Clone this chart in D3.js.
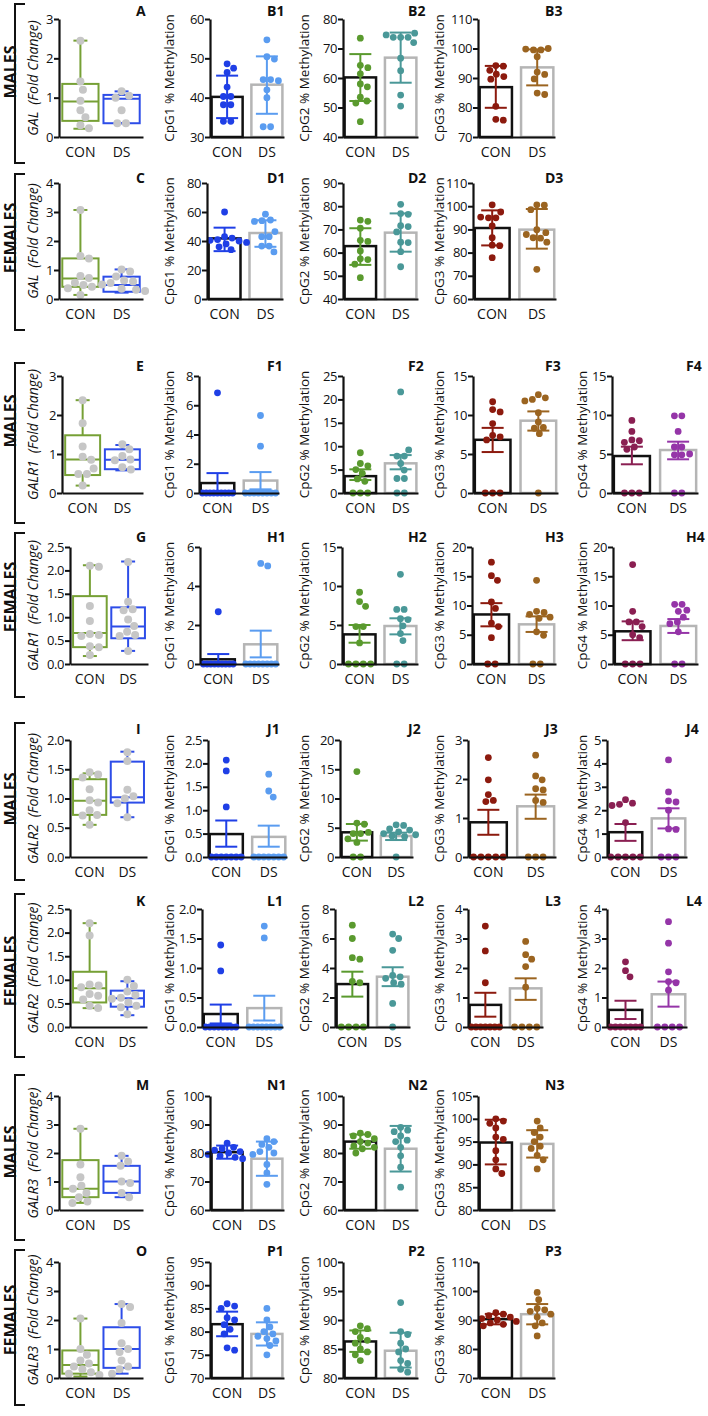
<!DOCTYPE html>
<html><head><meta charset="utf-8">
<script src="https://cdn.jsdelivr.net/npm/d3@7"></script>
<style>body{margin:0;background:#fff}svg{display:block}text{font-family:"Open Sans",sans-serif;fill:#111}</style>
</head><body><svg id="c" width="708" height="1416"></svg>
<script>
const groups = ["CON", "DS"];

// ---------- Row A / B (males, GAL) ----------
const A_ticks = [0,1,2,3];
const A_box = [[0.21,0.41,0.90,1.35,2.45],[0.35,0.35,0.97,1.07,1.16]]; // min,q1,median,q3,max
const A_pts = [[2.45,1.41,1.2,0.92,0.68,0.5,0.3,0.22],[1.16,1.05,1.0,0.68,0.35,0.35]];
const B1_ticks = [30,40,50,60];
const B1_pts = [[48.6,47.5,46.4,42.7,40.3,40.3,38.2,38.2,34.0,34.0],[54.7,50.4,49.8,44.6,44.6,44.3,42.0,40.0,32.6,32.6]];
const B1_mean = [40.2,43.3];
const B1_err = [[34.8,45.6],[35.9,50.5]];
const B2_ticks = [40,50,60,70,80];
const B2_pts = [[73.5,64.3,63.5,61.4,58,57,53.5,52.2,51.5,45.2],[75.2,74.6,73.8,73.8,73.8,72,66.7,62.5,54.2,50.5]];
const B2_mean = [60.2,66.9];
const B2_err = [[52.2,68.1],[58.4,75.4]];
const B3_ticks = [70,80,90,100,110];
const B3_pts = [[94.2,94,92.6,91.3,90.5,89.6,80.4,76,75.7],[100,99.8,99.5,99.5,97.2,92,91.2,89.7,84.9,84.4]];
const B3_mean = [86.9,93.6];
const B3_err = [[79.9,94.1],[87.5,99.7]];

// ---------- Row C / D (females, GAL) ----------
const C_ticks = [0,1,2,3,4];
const C_box = [[0.14,0.42,0.71,1.40,3.07],[0.22,0.25,0.48,0.77,1.02]];
const C_pts = [[3.07,1.48,1.40,0.79,0.72,0.56,0.48,0.42,0.37,0.14],[1.02,0.95,0.78,0.64,0.6,0.55,0.5,0.35,0.32,0.28]];
const D1_ticks = [0,20,40,60,80];
const D1_pts = [[60,43,42,41,40.5,40,39,38,36,34],[58.5,54.5,54,53.5,46.5,43,43,36.5,36.5,32.5]];
const D1_mean = [41.8,45.5];
const D1_err = [[33,49.2],[36,54.3]];
const D2_ticks = [40,50,60,70,80,90];
const D2_pts = [[74,73.5,70.5,65.3,64.8,60.7,57.3,57,55,49.2],[80.8,76.8,76.5,71.6,71.2,68.9,64.5,64.3,60.4,53.9]];
const D2_mean = [62.8,68.6];
const D2_err = [[54.7,70.5],[60.4,76.9]];
const D3_ticks = [60,70,80,90,100,110];
const D3_pts = [[100.6,97.5,95.3,95,95,91.5,86.4,83.2,83,77.8],[100.6,100.4,98.5,89.9,88.6,87.8,86.4,86.2,84.5,72.8]];
const D3_mean = [90.6,89.9];
const D3_err = [[83.1,98.2],[81.7,98.8]];

// ---------- Row E / F (males, GALR1) ----------
const E_ticks = [0,1,2,3];
const E_box = [[0.19,0.46,0.86,1.48,2.38],[0.58,0.61,0.85,1.12,1.23]];
const E_pts = [[2.38,1.79,1.19,0.93,0.85,0.63,0.49,0.49,0.19],[1.25,1.12,0.95,0.86,0.84,0.66,0.6]];
const F1_ticks = [0,2,4,6,8];
const F1_pts = [[6.85,0,0,0,0,0,0,0,0,0],[5.3,3.2,0,0,0,0,0,0,0,0]];
const F1_mean = [0.68,0.85];
const F1_err = [[0,1.36],[0.25,1.43]];
const F2_ticks = [0,5,10,15,20,25];
const F2_pts = [[8.6,6.3,5.8,5.0,4.2,3.0,2.5,0,0,0],[21.6,9.2,7.9,7.9,6.3,4.9,3.1,3.1,0,0]];
const F2_mean = [3.6,6.34];
const F2_err = [[2.78,5.06],[5.06,8.1]];
const F3_ticks = [0,5,10,15];
const F3_pts = [[11.7,10.7,10.4,8.9,7.4,7.2,6.8,0,0,0],[12.6,12.2,12.0,11.8,10.3,9.1,8.4,8.3,7.6,0]];
const F3_mean = [6.82,9.27];
const F3_err = [[5.25,8.35],[8.0,10.46]];
const F4_ticks = [0,5,10,15];
const F4_pts = [[9.3,7.9,6.8,6.7,6.5,5.9,5.6,0,0,0],[9.9,9.9,7.9,5.9,5.9,5.0,4.9,4.9,0,0]];
const F4_mean = [4.74,5.51];
const F4_err = [[3.68,5.94],[4.32,6.58]];

// ---------- Row G / H (females, GALR1) ----------
const G_ticks = [0,0.5,1,1.5,2,2.5];
const G_box = [[0.17,0.36,0.66,1.45,2.11],[0.28,0.55,0.80,1.21,2.19]];
const G_pts = [[2.1,2.08,1.24,0.92,0.64,0.62,0.6,0.38,0.36,0.19],[2.18,1.33,1.17,1.15,0.95,0.81,0.69,0.62,0.6,0.28]];
const H1_ticks = [0,2,4,6];
const H1_pts = [[2.68,0,0,0,0,0,0,0,0,0],[5.16,5.03,0,0,0,0,0,0,0,0]];
const H1_mean = [0.24,1.01];
const H1_err = [[0,0.51],[0.34,1.71]];
const H2_ticks = [0,5,10,15];
const H2_pts = [[9.2,8.0,7.4,4.8,4.8,2.7,0,0,0,0],[11.5,7.0,7.0,5.8,5.7,4.9,3.9,3.0,0,0]];
const H2_mean = [3.8,4.87];
const H2_err = [[2.73,5.0],[3.8,5.86]];
const H3_ticks = [0,5,10,15,20];
const H3_pts = [[17.4,15.1,14.3,10.6,9.5,7.0,6.4,4.5,0,0],[14.3,9.0,8.8,8.5,8.0,7.8,5.5,4.9,0,0]];
const H3_mean = [8.47,6.78];
const H3_err = [[6.44,10.4],[5.48,8.14]];
const H4_ticks = [0,5,10,15,20];
const H4_pts = [[17.0,9.0,7.2,7.2,6.4,5.0,4.5,0,0,0],[10.2,10.2,9.2,9.0,8.0,7.2,6.9,5.5,0,0]];
const H4_mean = [5.59,6.5];
const H4_err = [[4.07,7.29],[5.31,7.68]];

// ---------- Row I / J (males, GALR2) ----------
const I_ticks = [0,0.5,1,1.5,2];
const I_box = [[0.55,0.72,0.96,1.33,1.43],[0.68,0.93,1.02,1.63,1.8]];
const I_pts = [[1.45,1.41,1.36,1.16,0.97,0.93,0.8,0.72,0.71,0.55],[1.79,1.64,1.15,1.04,1.0,0.92,0.68]];
const J1_ticks = [0,0.5,1,1.5,2,2.5];
const J1_pts = [[2.07,1.84,1.07,0,0,0,0,0,0,0],[1.77,1.41,1.28,0,0,0,0,0,0,0]];
const J1_mean = [0.49,0.43];
const J1_err = [[0.22,0.78],[0.22,0.67]];
const J2_ticks = [0,5,10,15,20];
const J2_pts = [[14.6,5.8,5.6,4.2,4.0,4.0,3.1,2.5,0,0],[5.5,5.4,4.8,4.6,4.3,4.0,3.8,3.6,3.5,0]];
const J2_mean = [4.22,3.59];
const J2_err = [[2.8,5.64],[2.9,4.16]];
const J3_ticks = [0,1,2,3];
const J3_pts = [[2.55,1.98,1.6,1.45,1.42,0,0,0,0,0],[2.61,2.08,1.98,1.75,1.72,1.45,1.4,0,0,0]];
const J3_mean = [0.89,1.3];
const J3_err = [[0.57,1.21],[0.98,1.6]];
const J4_ticks = [0,1,2,3,4,5];
const J4_pts = [[2.45,2.3,2.25,2.2,1.47,0,0,0,0,0],[4.15,2.78,2.4,2.35,2.0,1.2,1.18,0,0,0]];
const J4_mean = [1.06,1.65];
const J4_err = [[0.69,1.41],[1.22,2.08]];

// ---------- Row K / L (females, GALR2) ----------
const K_ticks = [0,0.5,1,1.5,2,2.5];
const K_box = [[0.4,0.52,0.82,1.17,2.2],[0.25,0.43,0.61,0.77,0.97]];
const K_pts = [[2.2,1.94,0.9,0.88,0.84,0.7,0.66,0.58,0.45,0.4],[1.0,0.87,0.75,0.68,0.62,0.6,0.52,0.45,0.42,0.27]];
const L1_ticks = [0,0.5,1,1.5,2];
const L1_pts = [[1.39,0.95,0,0,0,0,0,0,0,0],[1.71,1.51,0,0,0,0,0,0,0,0]];
const L1_mean = [0.22,0.32];
const L1_err = [[0.06,0.38],[0.11,0.53]];
const L2_ticks = [0,2,4,6,8];
const L2_pts = [[6.9,6.0,4.7,4.6,3.1,3.0,0,0,0,0],[6.3,6.0,5.2,3.5,3.4,3.3,3.0,2.9,1.6,0]];
const L2_mean = [2.91,3.41];
const L2_err = [[2.06,3.75],[2.77,4.05]];
const L3_ticks = [0,1,2,3,4];
const L3_pts = [[3.42,2.58,1.5,0,0,0,0,0,0,0],[2.9,2.45,2.3,2.05,1.35,0,0,0,0]];
const L3_mean = [0.75,1.31];
const L3_err = [[0.35,1.16],[0.92,1.65]];
const L4_ticks = [0,1,2,3,4];
const L4_pts = [[2.21,1.91,1.7,0,0,0,0,0,0,0],[3.57,2.84,1.87,1.54,1.5,1.25,0,0,0,0]];
const L4_mean = [0.58,1.11];
const L4_err = [[0.27,0.89],[0.69,1.54]];

// ---------- Row M / N (males, GALR3) ----------
const M_ticks = [0,1,2,3,4];
const M_box = [[0.25,0.45,0.75,1.75,2.85],[0.45,0.6,1.0,1.55,1.9]];
const M_pts = [[2.85,1.6,1.15,0.85,0.75,0.6,0.45,0.3,0.25],[1.9,1.7,1.55,1.0,0.95,0.6,0.45]];
const N1_ticks = [60,70,80,90,100];
const N1_pts = [[83.5,82,81.5,81,80.5,80,79.5,79,78.5,78],[85,84,83,82,80.5,80,79.5,76,73,69]];
const N1_mean = [80.3,78];
const N1_err = [[78,82.6],[72,84]];
const N2_ticks = [60,70,80,90,100];
const N2_pts = [[87,86.5,86,85,84,83.5,82.5,82,81.5,80],[89,88,87.5,86,84.5,84,82,79,75,68]];
const N2_mean = [84,81.5];
const N2_err = [[81.5,86.5],[73.5,89.5]];
const N3_ticks = [80,85,90,95,100,105];
const N3_pts = [[100,99.5,99,98,96,95.5,93,91,89,88],[99.5,98,97,96,95,94,93.5,92,91,89]];
const N3_mean = [94.8,94.5];
const N3_err = [[90,99.8],[91.5,97.5]];

// ---------- Row O / P (females, GALR3) ----------
const O_ticks = [0,1,2,3,4];
const O_box = [[0.05,0.15,0.45,0.95,2.05],[0.15,0.35,1.0,1.75,2.55]];
const O_pts = [[2.05,1.0,0.8,0.6,0.5,0.4,0.3,0.2,0.15,0.1],[2.55,2.45,1.9,1.2,1.0,0.9,0.6,0.4,0.3,0.15]];
const P1_ticks = [70,75,80,85,90,95];
const P1_pts = [[86,85.5,85,83,82.5,81.5,80.5,79.5,76.5,76],[85,82.5,81,80,79.5,79,78.5,78,77,75]];
const P1_mean = [81.6,79.5];
const P1_err = [[79,84.3],[77,82]];
const P2_ticks = [80,85,90,95,100];
const P2_pts = [[89,88.5,88,87,86.5,86,85,84.5,84,83],[93,88,87.5,86,85,84.5,83,82.5,81.5,81]];
const P2_mean = [86.3,84.7];
const P2_err = [[84.5,88.2],[81.8,87.8]];
const P3_ticks = [70,80,90,100,110];
const P3_pts = [[92.5,92,91.5,91,90.5,90,89.5,89,88.5,88],[99.5,97,94,93.5,93,92,91,89,88,84.5]];
const P3_mean = [90.3,92];
const P3_err = [[88.5,92.1],[88.5,95.5]];

// ================= layout / style =================
const rows = [
  {sex:"MALES",   gene:"GAL",   top:19,   bot:137,  br:[4,163],     labY:16,   sexY:72},
  {sex:"FEMALES", gene:"GAL",   top:183,  bot:299,  br:[174,330],   labY:183,  sexY:238},
  {sex:"MALES",   gene:"GALR1", top:376,  bot:493,  br:[363,523],   labY:371,  sexY:421},
  {sex:"FEMALES", gene:"GALR1", top:547,  bot:664,  br:[533,697],   labY:542,  sexY:597},
  {sex:"MALES",   gene:"GALR2", top:740,  bot:857,  br:[723,880],   labY:734,  sexY:799},
  {sex:"FEMALES", gene:"GALR2", top:909,  bot:1027, br:[894,1057],  labY:906,  sexY:971},
  {sex:"MALES",   gene:"GALR3", top:1096, bot:1210, br:[1075,1240], labY:1090, sexY:1152},
  {sex:"FEMALES", gene:"GALR3", top:1262, bot:1378, br:[1250,1405], labY:1256, sexY:1320}
];
const labelX = [136, 267, 408, 545, 686];
const titleX = [32, 169, 304, 439, 582];
const siteColors = {
  1: ["#1f3fe6", "#5a9cf0"],
  2: ["#5a9a2e", "#4a9898"],
  3: ["#8c1a0e", "#9b6420"],
  4: ["#8a1f52", "#9535a8"]
};
const boxColors = ["#76a035", "#2d4de8"];
const barStroke = ["#111111", "#b5b5b5"];

const panels = [
  {row:0,id:"A",kind:"box",x:59,w:84,ticks:A_ticks,box:A_box,pts:A_pts},
  {row:0,id:"B1",site:1,x:210,w:74,ticks:B1_ticks,pts:B1_pts,mean:B1_mean,err:B1_err},
  {row:0,id:"B2",site:2,x:343,w:75,ticks:B2_ticks,pts:B2_pts,mean:B2_mean,err:B2_err},
  {row:0,id:"B3",site:3,x:478,w:77,ticks:B3_ticks,pts:B3_pts,mean:B3_mean,err:B3_err},
  {row:1,id:"C",kind:"box",x:59,w:84,ticks:C_ticks,box:C_box,pts:C_pts},
  {row:1,id:"D1",site:1,x:207,w:76,ticks:D1_ticks,pts:D1_pts,mean:D1_mean,err:D1_err},
  {row:1,id:"D2",site:2,x:343,w:75,ticks:D2_ticks,pts:D2_pts,mean:D2_mean,err:D2_err},
  {row:1,id:"D3",site:3,x:473,w:83,ticks:D3_ticks,pts:D3_pts,mean:D3_mean,err:D3_err},
  {row:2,id:"E",kind:"box",x:62,w:81,ticks:E_ticks,box:E_box,pts:E_pts},
  {row:2,id:"F1",site:1,x:199,w:80,ticks:F1_ticks,pts:F1_pts,mean:F1_mean,err:F1_err},
  {row:2,id:"F2",site:2,x:343,w:75,ticks:F2_ticks,pts:F2_pts,mean:F2_mean,err:F2_err},
  {row:2,id:"F3",site:3,x:473,w:85,ticks:F3_ticks,pts:F3_pts,mean:F3_mean,err:F3_err},
  {row:2,id:"F4",site:4,x:612,w:86,ticks:F4_ticks,pts:F4_pts,mean:F4_mean,err:F4_err},
  {row:3,id:"G",kind:"box",x:70,w:78,ticks:G_ticks,box:G_box,pts:G_pts},
  {row:3,id:"H1",site:1,x:200,w:79,ticks:H1_ticks,pts:H1_pts,mean:H1_mean,err:H1_err},
  {row:3,id:"H2",site:2,x:342,w:76,ticks:H2_ticks,pts:H2_pts,mean:H2_mean,err:H2_err},
  {row:3,id:"H3",site:3,x:472,w:84,ticks:H3_ticks,pts:H3_pts,mean:H3_mean,err:H3_err},
  {row:3,id:"H4",site:4,x:613,w:85,ticks:H4_ticks,pts:H4_pts,mean:H4_mean,err:H4_err},
  {row:4,id:"I",kind:"box",x:70,w:77,ticks:I_ticks,box:I_box,pts:I_pts},
  {row:4,id:"J1",site:1,x:208,w:79,ticks:J1_ticks,pts:J1_pts,mean:J1_mean,err:J1_err},
  {row:4,id:"J2",site:2,x:340,w:73,ticks:J2_ticks,pts:J2_pts,mean:J2_mean,err:J2_err},
  {row:4,id:"J3",site:3,x:468,w:88,ticks:J3_ticks,pts:J3_pts,mean:J3_mean,err:J3_err},
  {row:4,id:"J4",site:4,x:607,w:80,ticks:J4_ticks,pts:J4_pts,mean:J4_mean,err:J4_err},
  {row:5,id:"K",kind:"box",x:70,w:77,ticks:K_ticks,box:K_box,pts:K_pts},
  {row:5,id:"L1",site:1,x:202,w:81,ticks:L1_ticks,pts:L1_pts,mean:L1_mean,err:L1_err},
  {row:5,id:"L2",site:2,x:335,w:75,ticks:L2_ticks,pts:L2_pts,mean:L2_mean,err:L2_err},
  {row:5,id:"L3",site:3,x:468,w:75,ticks:L3_ticks,pts:L3_pts,mean:L3_mean,err:L3_err},
  {row:5,id:"L4",site:4,x:607,w:80,ticks:L4_ticks,pts:L4_pts,mean:L4_mean,err:L4_err},
  {row:6,id:"M",kind:"box",x:59,w:84,ticks:M_ticks,box:M_box,pts:M_pts},
  {row:6,id:"N1",site:1,x:210,w:74,ticks:N1_ticks,pts:N1_pts,mean:N1_mean,err:N1_err},
  {row:6,id:"N2",site:2,x:343,w:75,ticks:N2_ticks,pts:N2_pts,mean:N2_mean,err:N2_err},
  {row:6,id:"N3",site:3,x:478,w:77,ticks:N3_ticks,pts:N3_pts,mean:N3_mean,err:N3_err},
  {row:7,id:"O",kind:"box",x:59,w:84,ticks:O_ticks,box:O_box,pts:O_pts},
  {row:7,id:"P1",site:1,x:210,w:74,ticks:P1_ticks,pts:P1_pts,mean:P1_mean,err:P1_err},
  {row:7,id:"P2",site:2,x:343,w:75,ticks:P2_ticks,pts:P2_pts,mean:P2_mean,err:P2_err},
  {row:7,id:"P3",site:3,x:478,w:77,ticks:P3_ticks,pts:P3_pts,mean:P3_mean,err:P3_err}
];

const svg = d3.select("#c");

// simple beeswarm: identical values spread evenly, others avoid collisions
function swarm(vals, y, cx, r, half) {
  const d = 2 * r + 0.6;
  const pts = vals.map(v => ({v, y: y(v)}));
  const placed = [];
  const byY = d3.group(pts, p => Math.round(p.y * 2) / 2);
  for (const [, arr] of byY) {
    if (arr.length >= 2) {
      const n = arr.length;
      const s = Math.min(d, 2 * half / (n - 1));
      arr.forEach((p, i) => { p.x = cx + (i - (n - 1) / 2) * s; placed.push(p); });
    }
  }
  const rest = pts.filter(p => p.x === undefined).sort((a, b) => a.y - b.y);
  for (const p of rest) {
    for (let k = 0; k < 200; k++) {
      const off = (k % 2 === 1 ? 1 : -1) * Math.ceil(k / 2) * 0.5;
      const x = cx + off;
      if (placed.every(q => (q.x - x) ** 2 + (q.y - p.y) ** 2 >= d * d - 0.01)) { p.x = x; break; }
    }
    if (p.x === undefined) p.x = cx;
    placed.push(p);
  }
  return pts;
}

// rows: brackets, sex labels, gene titles
rows.forEach(r => {
  svg.append("path").attr("d", `M25,${r.br[0]}H15V${r.br[1]}H25`)
    .attr("fill", "none").attr("stroke", "#111").attr("stroke-width", 2);
  svg.append("text").attr("transform", `translate(10,${r.sexY}) rotate(-90)`)
    .attr("text-anchor", "middle").attr("dominant-baseline", "central")
    .style("font-size", "16px").style("font-weight", "700").text(r.sex);
  svg.append("text").attr("transform", `translate(${titleX[0]},${(r.top + r.bot) / 2}) rotate(-90)`)
    .attr("text-anchor", "middle").attr("dominant-baseline", "central")
    .style("font-size", "14px").style("font-style", "italic")
    .text(r.gene + "\u2002(Fold Change)");
});

panels.forEach(p => {
  const r = rows[p.row];
  const isBox = p.kind === "box";
  const y = d3.scaleLinear().domain([p.ticks[0], p.ticks[p.ticks.length - 1]]).range([r.bot, r.top]);
  const x = d3.scaleBand().domain(groups).range([p.x, p.x + p.w])
    .paddingInner(isBox ? 0.12 : 0.22).paddingOuter(isBox ? 0.08 : 0.04);
  const bw = x.bandwidth();
  const g = svg.append("g");
  const fmt = p.ticks.some(t => !Number.isInteger(t)) ? d3.format(".1f") : d3.format("d");

  if (isBox) {
    groups.forEach((grp, i) => {
      const [mn, q1, md, q3, mx] = p.box[i];
      const cx = x(grp) + bw / 2, col = boxColors[i];
      const bg = g.append("g").attr("stroke", col).attr("stroke-width", 2).attr("fill", "none");
      bg.append("line").attr("x1", cx).attr("x2", cx).attr("y1", y(mx)).attr("y2", y(q3));
      bg.append("line").attr("x1", cx).attr("x2", cx).attr("y1", y(q1)).attr("y2", y(mn));
      bg.append("line").attr("x1", cx - 7).attr("x2", cx + 7).attr("y1", y(mx)).attr("y2", y(mx));
      bg.append("line").attr("x1", cx - 7).attr("x2", cx + 7).attr("y1", y(mn)).attr("y2", y(mn));
      bg.append("rect").attr("x", x(grp)).attr("width", bw).attr("y", y(q3)).attr("height", y(q1) - y(q3));
      bg.append("line").attr("x1", x(grp)).attr("x2", x(grp) + bw).attr("y1", y(md)).attr("y2", y(md));
      const pts = swarm(p.pts[i], y, cx, 4, bw * 0.42);
      g.append("g").selectAll("circle").data(pts).join("circle")
        .attr("cx", d => d.x).attr("cy", d => d.y).attr("r", 4).attr("fill", "#c6c6c6");
    });
  } else {
    const cols = siteColors[p.site];
    groups.forEach((grp, i) => {
      g.append("rect").attr("x", x(grp)).attr("width", bw)
        .attr("y", y(p.mean[i])).attr("height", r.bot - y(p.mean[i]))
        .attr("fill", "#fff").attr("stroke", barStroke[i]).attr("stroke-width", 2.5);
    });
    groups.forEach((grp, i) => {
      const cx = x(grp) + bw / 2, col = cols[i];
      const pts = swarm(p.pts[i], y, cx, 3.4, bw * 0.45);
      g.append("g").selectAll("circle").data(pts).join("circle")
        .attr("cx", d => d.x).attr("cy", d => d.y).attr("r", 3.4).attr("fill", col);
      const [lo, hi] = p.err[i];
      const eg = g.append("g").attr("stroke", col).attr("stroke-width", 2);
      eg.append("line").attr("x1", cx).attr("x2", cx).attr("y1", y(lo)).attr("y2", y(hi));
      eg.append("line").attr("x1", cx - 11).attr("x2", cx + 11).attr("y1", y(hi)).attr("y2", y(hi));
      eg.append("line").attr("x1", cx - 11).attr("x2", cx + 11).attr("y1", y(lo)).attr("y2", y(lo));
    });
    svg.append("text").attr("transform", `translate(${titleX[p.site]},${(r.top + r.bot) / 2}) rotate(-90)`)
      .attr("text-anchor", "middle").attr("dominant-baseline", "central")
      .style("font-size", "13.5px").text(`CpG${p.site} % Methylation`);
  }

  // axes
  const ay = g.append("g").attr("transform", `translate(${p.x},0)`)
    .call(d3.axisLeft(y).tickValues(p.ticks).tickFormat(fmt).tickSize(5).tickSizeOuter(0));
  const ax = g.append("g").attr("transform", `translate(0,${r.bot})`)
    .call(d3.axisBottom(x).tickSize(0).tickSizeOuter(0).tickPadding(10));
  [ay, ax].forEach(a => {
    a.select(".domain").attr("stroke", "#111").attr("stroke-width", 2.2);
    a.selectAll(".tick line").attr("stroke", "#111").attr("stroke-width", 2);
    a.selectAll("text").style("font-size", "14px").style("font-family", "'Open Sans',sans-serif").attr("fill", "#111");
  });
  ay.selectAll(".tick text").attr("x", -6).style("font-size", "13px").style("letter-spacing", "-0.4px");

  // panel letter
  svg.append("text").attr("x", labelX[isBox ? 0 : p.site]).attr("y", r.labY)
    .style("font-size", "14px").style("font-weight", "700").text(p.id);
});
</script></body></html>
